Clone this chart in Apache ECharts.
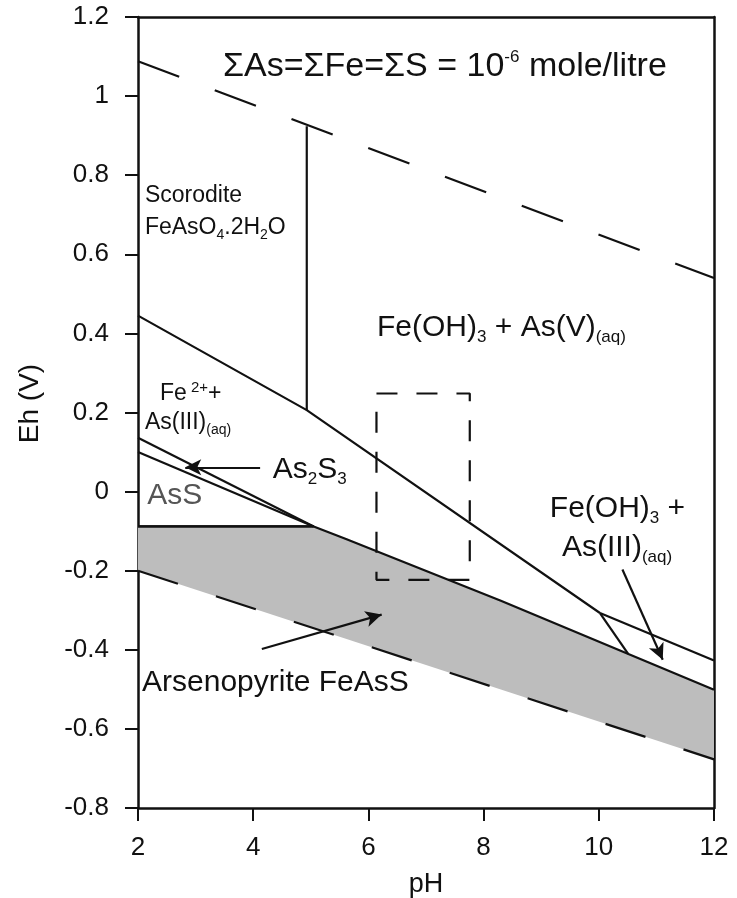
<!DOCTYPE html>
<html>
<head>
<meta charset="utf-8">
</head>
<body style="margin:0;background:#fff">
<div id="container" style="width:737px;height:898px"></div>
<script src="https://cdn.jsdelivr.net/npm/echarts@6/dist/echarts.min.js"></script>
<script>
// Eh-pH diagram, As-Fe-S system
const xTicks = ['2', '4', '6', '8', '10', '12'];
const yTicks = ['-0.8', '-0.6', '-0.4', '-0.2', '0', '0.2', '0.4', '0.6', '0.8', '1', '1.2'];

// water stability limits (dashed)
const waterUpper = [[2, 1.088], [12, 0.540]];
const waterLower = [[2, -0.200], [12, -0.677]];

// field boundaries
const scoroditeEdge = [[4.93, 0.924], [4.93, 0.206]];
const fe2Boundary = [[2, 0.445], [4.93, 0.206], [10.02, -0.307]];
const asRedox = [[10.02, -0.307], [12, -0.427]];
const kinkLine = [[10.02, -0.307], [10.51, -0.410]];
const as2s3Upper = [[2, 0.136], [5.05, -0.088]];
const as2s3Lower = [[2, 0.100], [5.05, -0.088]];
const assBase = [[2, -0.088], [5.05, -0.088]];
const arsenoTop = [[2, -0.088], [5.05, -0.088], [5.6, -0.119], [8.3, -0.276], [12, -0.501]];

// dashed box
const box = [[6.14, 0.248], [7.76, 0.248], [7.76, -0.223], [6.14, -0.223], [6.14, 0.248]];

// arrows: [from, to]
const arrows = [
  [[4.12, 0.0615], [2.82, 0.0615]],
  [[4.15, -0.398], [6.23, -0.311]],
  [[10.41, -0.197], [11.11, -0.425]]
];

// annotations: [pH, Eh, text]
const notes = [
  [2.12, 0.749, '{m|Scorodite}'],
  [2.12, 0.668, '{m|FeAsO}{ms|4}{m|.2H}{ms|2}{m|O}'],
  [6.15, 0.415, '{b|Fe(OH)}{bs|3}{b| + As(V)}{bs|(aq)}'],
  [2.38, 0.248, '{m|Fe}{msup| 2+}{m|+}'],
  [2.12, 0.175, '{m|As(III)}{ms|(aq)}'],
  [4.34, 0.056, '{b|As}{bs|2}{b|S}{bs|3}'],
  [2.16, -0.010, '{g|AsS}'],
  [9.15, -0.043, '{b|Fe(OH)}{bs|3}{b| +}'],
  [9.36, -0.142, '{b|As(III)}{bs|(aq)}'],
  [2.07, -0.484, '{b|Arsenopyrite FeAsS}']
];

const ink = '#111';
const font = 'Liberation Sans, Arial, sans-serif';

function solid(data, w) {
  return {
    type: 'line', data: data, symbol: 'none', silent: true, z: 3,
    lineStyle: { color: ink, width: w || 2.2 }
  };
}
function dashed(data, dash) {
  return {
    type: 'line', data: data, symbol: 'none', silent: true, z: 3,
    lineStyle: { color: ink, width: 2.2, type: dash }
  };
}

const myChart = echarts.init(document.getElementById('container'), null, { renderer: 'canvas' });

const option = {
  animation: false,
  title: {
    text: '{a|ΣAs=ΣFe=ΣS = 10}{sup|-6}{a| mole/litre}',
    left: 218,
    top: 44,
    textStyle: {
      fontWeight: 'normal',
      rich: {
        a: { fontFamily: font, fontSize: 34, fontWeight: 'normal', color: ink, lineHeight: 36 },
        sup: { fontFamily: font, fontSize: 17, fontWeight: 'normal', color: ink, verticalAlign: 'top', lineHeight: 17 }
      }
    }
  },
  grid: { left: 138, right: 23, top: 17, bottom: 90, outerBoundsMode: 'none', containLabel: false },
  xAxis: [{
    type: 'value', min: 2, max: 12, interval: 2,
    name: 'pH', nameLocation: 'middle', nameGap: 63,
    nameTextStyle: { fontFamily: font, fontSize: 27, color: ink },
    axisLine: { onZero: false, lineStyle: { color: ink, width: 2.5 } },
    axisTick: { show: true, length: 13, lineStyle: { color: ink, width: 2 } },
    axisLabel: {
      margin: 27, fontFamily: font, fontSize: 26, color: ink,
      formatter: v => xTicks[Math.round((v - 2) / 2)]
    },
    splitLine: { show: false }
  }, {
    type: 'value', min: 2, max: 12, position: 'top',
    axisLine: { show: true, onZero: false, lineStyle: { color: ink, width: 2.5 } },
    axisTick: { show: false }, axisLabel: { show: false }, splitLine: { show: false }
  }],
  yAxis: [{
    type: 'value', min: -0.8, max: 1.2, interval: 0.2,
    name: 'Eh (V)', nameLocation: 'middle', nameGap: 94, nameRotate: 90,
    nameTextStyle: { fontFamily: font, fontSize: 28, color: ink, padding: [0, 0, 0, 18] },
    axisLine: { show: true, onZero: false, lineStyle: { color: ink, width: 2.5 } },
    axisTick: { show: true, length: 13, lineStyle: { color: ink, width: 2 } },
    axisLabel: {
      margin: 29, fontFamily: font, fontSize: 26, color: ink,
      formatter: v => yTicks[Math.round((v + 0.8) / 0.2)]
    },
    splitLine: { show: false }
  }, {
    type: 'value', min: -0.8, max: 1.2, position: 'right',
    axisLine: { show: true, onZero: false, lineStyle: { color: ink, width: 2.5 } },
    axisTick: { show: false }, axisLabel: { show: false }, splitLine: { show: false }
  }],
  series: [
    {
      type: 'custom', silent: true, z: 1,
      data: [0],
      renderItem: function (params, api) {
        const pts = arsenoTop.concat(waterLower.slice().reverse()).map(p => api.coord(p));
        return { type: 'polygon', shape: { points: pts }, style: { fill: '#bdbdbd' } };
      }
    },
    dashed(waterUpper, [44, 38]),
    dashed(waterLower, [42, 40]),
    dashed(box, [21, 19]),
    solid(scoroditeEdge),
    solid(fe2Boundary),
    solid(asRedox),
    solid(kinkLine),
    solid(as2s3Upper),
    solid(as2s3Lower),
    solid(assBase),
    solid(arsenoTop),
    {
      type: 'line', data: [], symbol: 'none', silent: true,
      markLine: {
        silent: true, animation: false,
        symbol: ['none', 'arrow'], symbolSize: [12, 16],
        label: { show: false },
        lineStyle: { color: ink, width: 2.2, type: 'solid' },
        data: arrows.map(a => [{ coord: a[0] }, { coord: a[1] }])
      }
    },
    {
      type: 'scatter', symbolSize: 0, silent: true, z: 5,
      itemStyle: { opacity: 1 },
      data: notes.map(n => [n[0], n[1]]),
      label: {
        show: true, position: 'right', distance: 0, color: ink, textBorderWidth: 0,
        formatter: p => notes[p.dataIndex][2],
        rich: {
          b: { fontFamily: font, fontSize: 30, color: ink, lineHeight: 32 },
          bs: { fontFamily: font, fontSize: 17, color: ink, lineHeight: 17, verticalAlign: 'bottom', padding: [0, 0, -2, 0] },
          m: { fontFamily: font, fontSize: 23, color: ink, lineHeight: 26 },
          ms: { fontFamily: font, fontSize: 14, color: ink, lineHeight: 14, verticalAlign: 'bottom', padding: [0, 0, -2, 0] },
          msup: { fontFamily: font, fontSize: 15, color: ink, lineHeight: 15, verticalAlign: 'top' },
          g: { fontFamily: font, fontSize: 30, color: '#555', lineHeight: 32 }
        }
      }
    }
  ]
};

myChart.setOption(option);
window.addEventListener('resize', myChart.resize);
</script>
</body>
</html>
